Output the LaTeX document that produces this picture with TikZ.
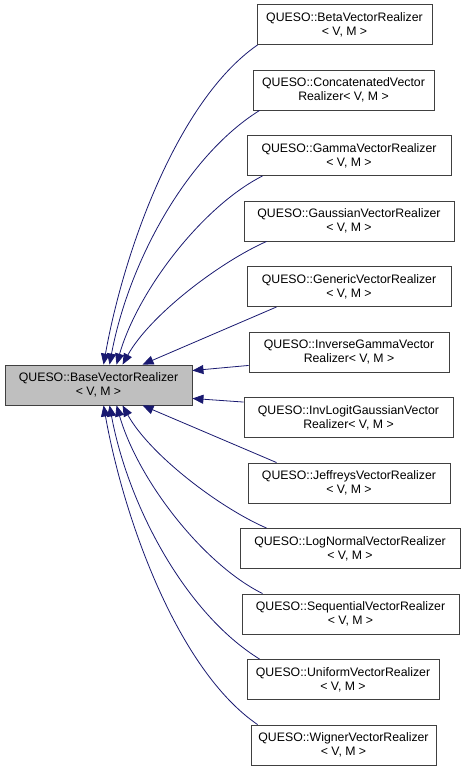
\documentclass[tikz,border=0pt]{standalone}
\usepackage{fontspec}
\setmainfont{Liberation Sans}
\usetikzlibrary{arrows.meta,calc}
\definecolor{edgeblue}{HTML}{191970}
\definecolor{boxline}{HTML}{404040}
\definecolor{basefill}{HTML}{BFBFBF}
\tikzset{
  cls/.style={draw=boxline, line width=0.9pt, fill=white, inner sep=0pt,
    minimum height=40pt, align=center, text=black,
    font=\fontsize{12.3pt}{14pt}\selectfont},
  basecls/.style={cls, fill=basefill},
  edge/.style={draw=edgeblue, line width=0.8pt,
    -{Triangle[length=11pt,width=9pt]}}
}
\begin{document}
\begin{tikzpicture}[x=1pt,y=-1pt]
\useasboundingbox (0,0) rectangle (464,769);
\node[basecls, minimum width=187pt] (base) at (98.5,385) {QUESO::BaseVectorRealizer\\{< V, M >}};
\node[cls, minimum width=175pt] (beta) at (344.5,24.5) {QUESO::BetaVectorRealizer\\{< V, M >}};
\node[cls, minimum width=181pt] (concat) at (343.5,90) {QUESO::ConcatenatedVector\\{Realizer< V, M >}};
\node[cls, minimum width=204pt] (gamma) at (349,155.5) {QUESO::GammaVectorRealizer\\{< V, M >}};
\node[cls, minimum width=210pt] (gauss) at (349,221) {QUESO::GaussianVectorRealizer\\{< V, M >}};
\node[cls, minimum width=204pt] (generic) at (349,286.5) {QUESO::GenericVectorRealizer\\{< V, M >}};
\node[cls, minimum width=200pt] (invgamma) at (349,352) {QUESO::InverseGammaVector\\{Realizer< V, M >}};
\node[cls, minimum width=209pt] (invlogit) at (348.5,417.5) {QUESO::InvLogitGaussianVector\\{Realizer< V, M >}};
\node[cls, minimum width=202pt] (jeff) at (349,483) {QUESO::JeffreysVectorRealizer\\{< V, M >}};
\node[cls, minimum width=220pt] (lognorm) at (350,548.5) {QUESO::LogNormalVectorRealizer\\{< V, M >}};
\node[cls, minimum width=217pt] (seq) at (350.5,614) {QUESO::SequentialVectorRealizer\\{< V, M >}};
\node[cls, minimum width=192pt] (unif) at (343,679.5) {QUESO::UniformVectorRealizer\\{< V, M >}};
\node[cls, minimum width=185pt] (wigner) at (343.5,745) {QUESO::WignerVectorRealizer\\{< V, M >}};
% upper edges
\draw[edge] ($(beta.south west)+(1,0)$) .. controls (178,100) and (124,250) .. ($(base.north west)+(99,0)$);
\draw[edge] ($(concat.south west)+(7,0)$) .. controls (185,157) and (128,265) .. ($(base.north west)+(105,0)$);
\draw[edge] ($(gamma.south west)+(16,0)$) .. controls (203,206) and (138,290) .. ($(base.north west)+(112,0)$);
\draw[edge] ($(gauss.south west)+(23,0)$) .. controls (220,262) and (150,315) .. ($(base.north west)+(118,0)$);
\draw[edge] ($(generic.south west)+(30,0)$) -- ($(base.north west)+(138,0)$);
\draw[edge] ($(invgamma.south west)+(0,-7)$) -- ($(base.north east)+(0,6)$);
\draw[edge] ($(invlogit.north west)+(0,5)$) -- ($(base.south east)+(0,-7)$);
% lower edges
\draw[edge] ($(jeff.north west)+(29,0)$) -- ($(base.south west)+(138,0)$);
\draw[edge] ($(lognorm.north west)+(27,0)$) .. controls (220,508) and (150,455) .. ($(base.south west)+(118,0)$);
\draw[edge] ($(seq.north west)+(21,0)$) .. controls (203,564) and (138,480) .. ($(base.south west)+(112,0)$);
\draw[edge] ($(unif.north west)+(13,0)$) .. controls (185,613) and (128,505) .. ($(base.south west)+(105,0)$);
\draw[edge] ($(wigner.north west)+(7,0)$) .. controls (178,670) and (124,520) .. ($(base.south west)+(99,0)$);
\end{tikzpicture}
\end{document}
